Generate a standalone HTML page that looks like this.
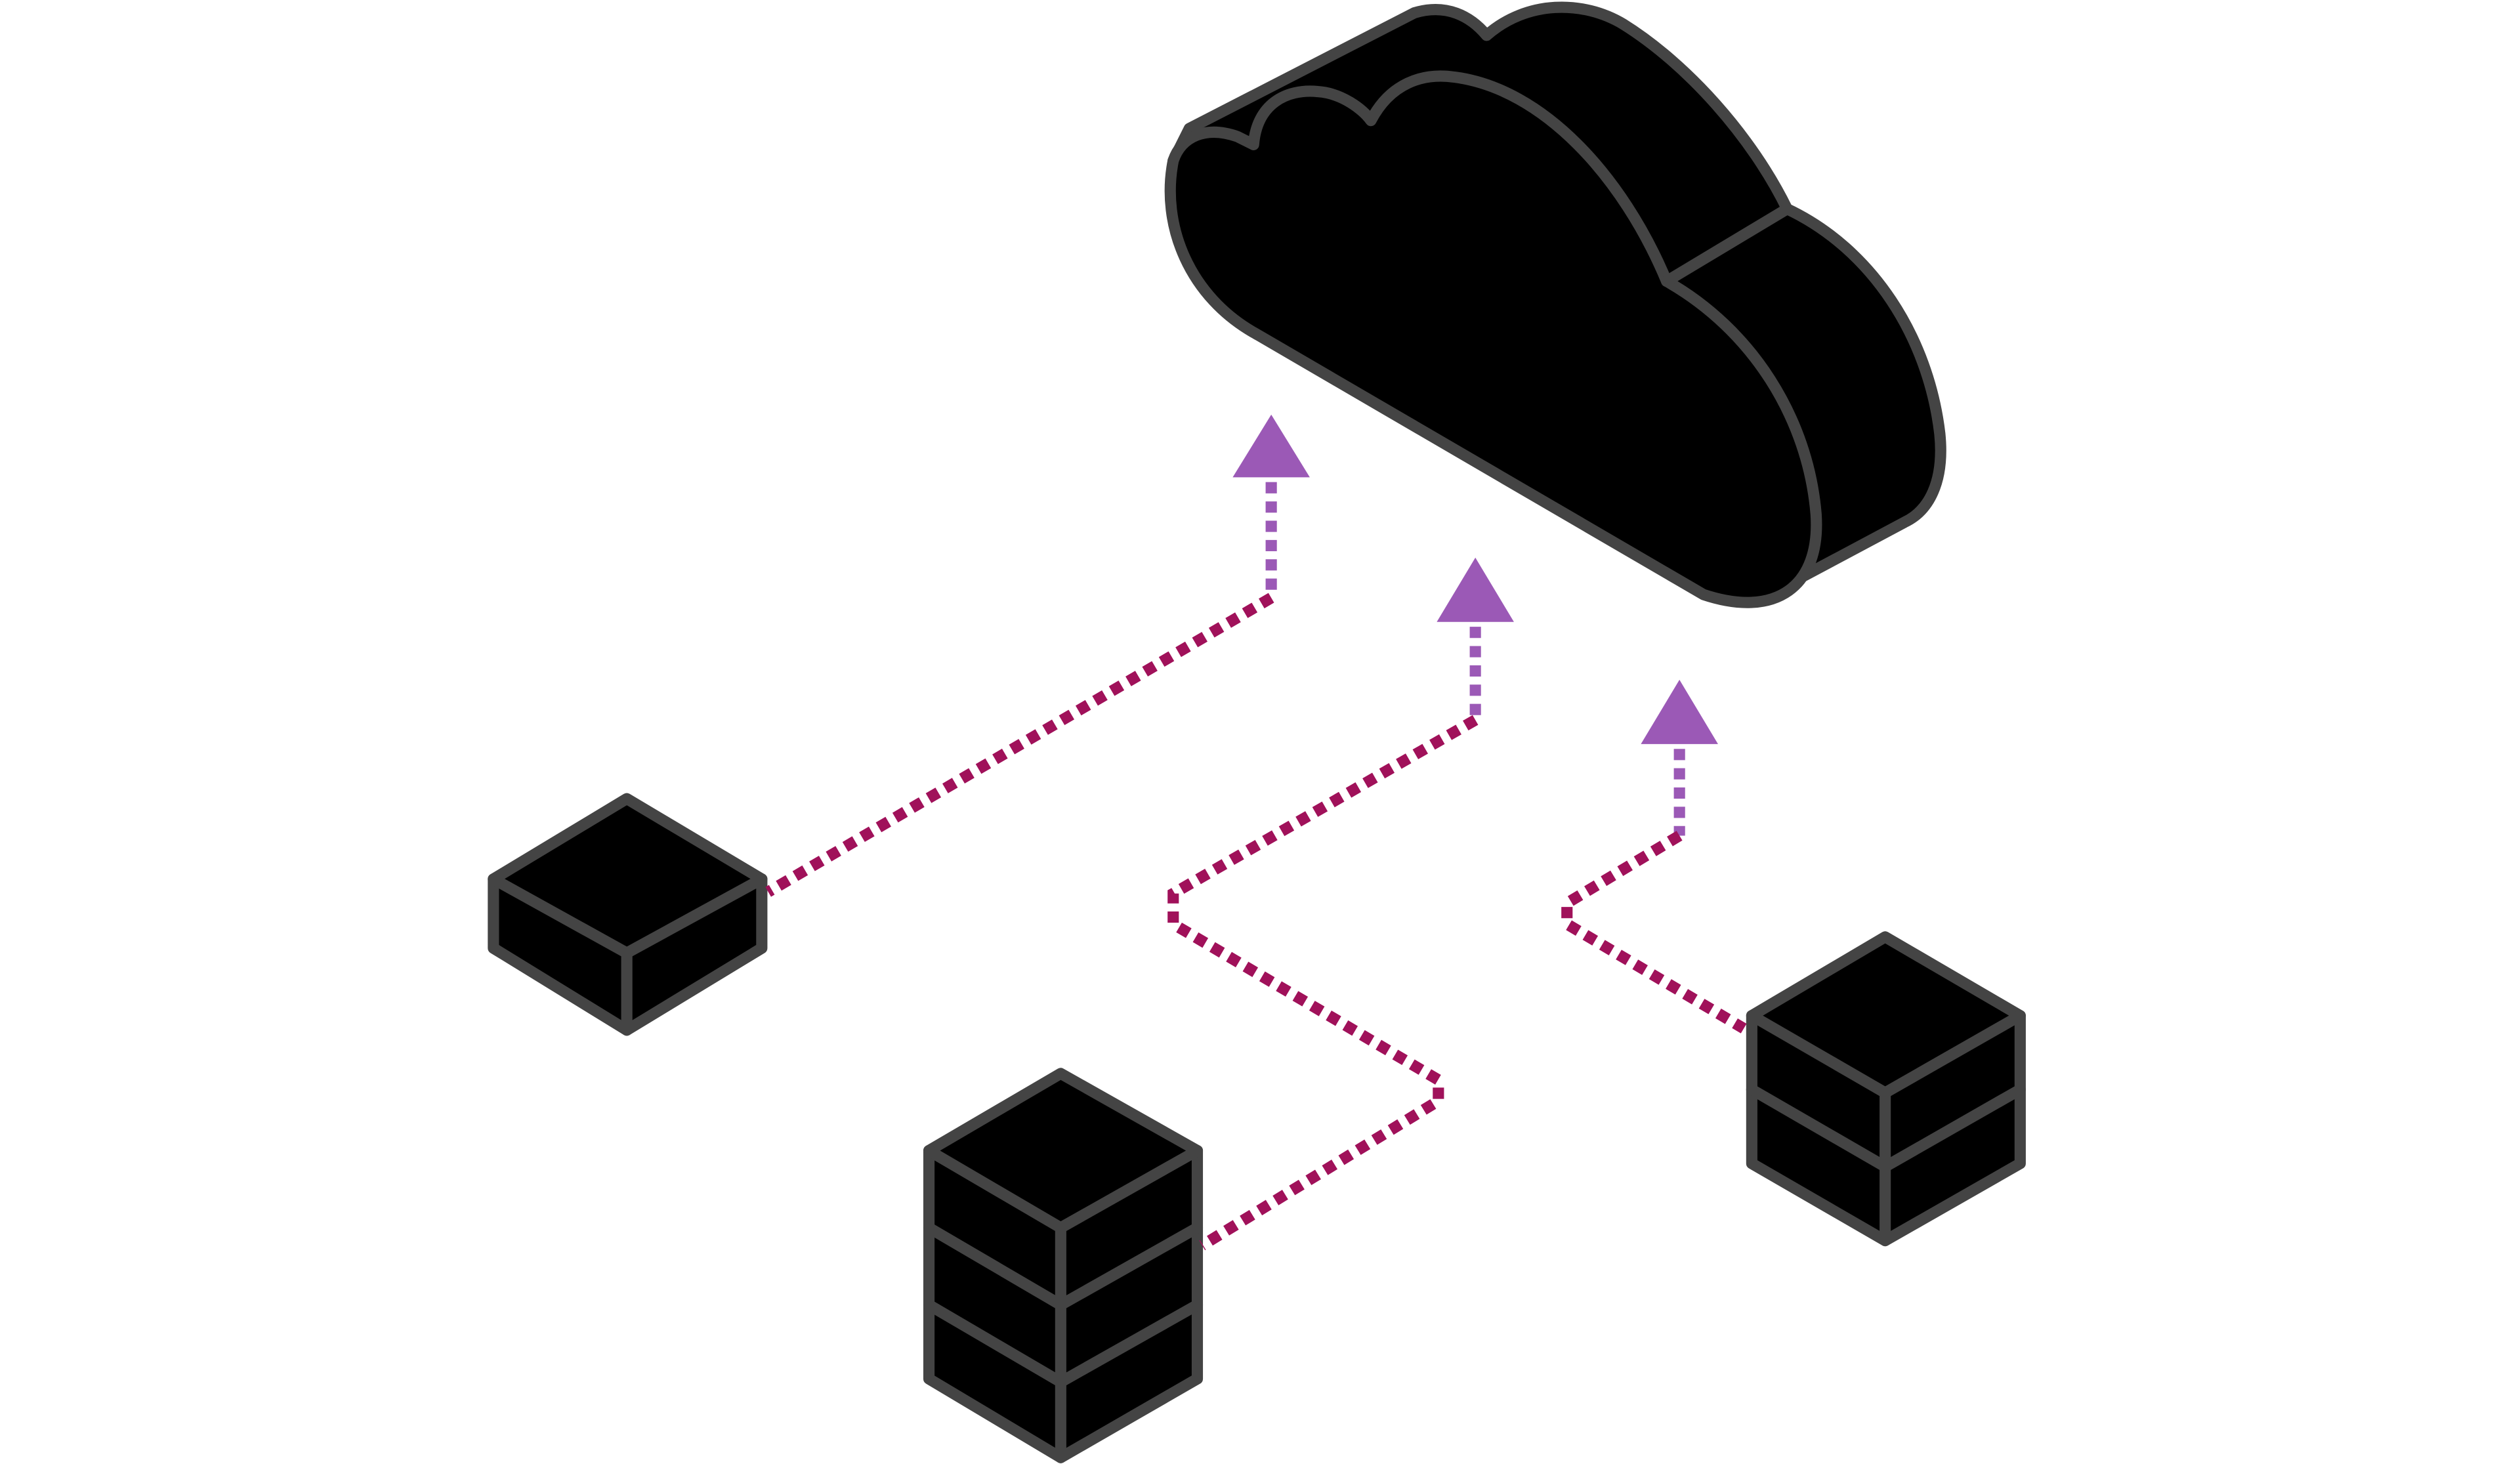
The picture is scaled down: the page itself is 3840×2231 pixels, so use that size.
<!DOCTYPE html>
<html><head><meta charset="utf-8"><style>
html,body{margin:0;padding:0;background:#fff;}
svg{display:block;}
</style></head><body>
<svg width="3840" height="2231" viewBox="0 0 1568 911" xmlns="http://www.w3.org/2000/svg">
<g fill="#000" stroke="#444" stroke-width="7" stroke-linejoin="round" stroke-linecap="round">
<path d="M730,100 L740,80 L880,8 C900,2 915,10 925,22 C950,0 985,0 1010,15 C1050,40 1090,85 1112,130 C1165,155 1200,210 1207,270 C1210,300 1200,318 1185,325 L1110,365 L782,208 Z"/>
<path d="M782,208 C740,185 722,140 730,100 C735,85 750,78 770,85 L780,90 C782,65 800,55 820,57 C835,58 848,68 853,75 C865,52 885,45 905,48 C960,55 1010,110 1037,175 C1090,205 1125,260 1130,320 C1133,365 1105,385 1060,370 Z"/>
<path d="M1037,175 L1112,130" fill="none"/>
<path d="M390,497 L474,547 L474,590 L390,641 L307,590 L307,547 Z"/>
<path d="M307,547 L390,593 L474,547 M390,593 L390,641" fill="none"/>
<path d="M660,668 L745,716 L745,858 L660,907 L578,858 L578,716 Z"/>
<path d="M578,716 L660,764 L745,716 M660,764 L660,907 M578,764 L660,812 L745,764 M578,812 L660,860 L745,812" fill="none"/>
<path d="M1173,583 L1257,632 L1257,724 L1173,772 L1090,724 L1090,632 Z"/>
<path d="M1090,632 L1173,680 L1257,632 M1173,680 L1173,772 M1090,678 L1173,726 L1257,678" fill="none"/>
</g>
<g fill="none" stroke-width="7" stroke-dasharray="7 5">
<path d="M791,300 L791,372" stroke="#9b59b6"/>
<path d="M791,372 L478,555" stroke="#a0115a"/>
<path d="M918,390 L918,448" stroke="#9b59b6"/>
<path d="M918,448 L730,556 L730,575 L895,672 L895,685 L748,775" stroke="#a0115a"/>
<path d="M1045,466 L1045,520" stroke="#9b59b6"/>
<path d="M1045,520 L975,562 L975,575 L1085,640" stroke="#a0115a"/>
</g>
<g fill="#9b59b6">
<polygon points="791,258 815,297 767,297"/>
<polygon points="918,347 942,387 894,387"/>
<polygon points="1045,423 1069,463 1021,463"/>
</g>
</svg>
</body></html>
